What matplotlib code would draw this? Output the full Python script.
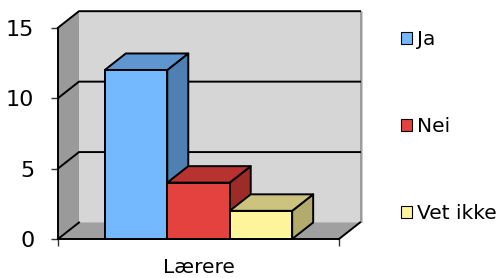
import matplotlib
matplotlib.use("Agg")
import matplotlib.pyplot as plt
from matplotlib.patches import Polygon, Patch

categories = ["Ja", "Nei", "Vet ikke"]
values = [12, 4, 2]
group_label = "Lærere"
yticks = [0, 5, 10, 15]

front_cols = ["#74b9fe", "#e4423f", "#fef49c"]
top_cols = ["#5f96d0", "#b8322f", "#ccc47e"]
side_cols = ["#4e80b3", "#9f2b28", "#b3aa6e"]

W, H, DPI = 501, 278, 100
fig = plt.figure(figsize=(W / DPI, H / DPI), dpi=DPI)
# front plane of the 3D box
x0, x1, ybot, ytop = 58, 339, 239, 27.7
ax = fig.add_axes([x0 / W, 1 - ybot / H, (x1 - x0) / W, (ybot - ytop) / H])
xmin, xmax = -1.25, 3.25
ax.set_xlim(xmin, xmax)
ax.set_ylim(0, 15)

# depth offset in data units (21 px right, 16.5 px up)
DX = 21 / ((x1 - x0) / (xmax - xmin))
DY = 16.5 / ((ybot - ytop) / 15)

lw = 1.4
kw = dict(clip_on=False)
# back wall, left wall, floor
ax.add_patch(Polygon([(xmin + DX, DY), (xmax + DX, DY), (xmax + DX, 15 + DY), (xmin + DX, 15 + DY)],
                     fc="#d6d6d6", ec="none", zorder=0, **kw))
ax.add_patch(Polygon([(xmax + DX, DY), (xmax + DX + 0.04, DY - 0.05), (xmax + DX + 0.04, 15 + DY), (xmax + DX, 15 + DY)],
                     fc="#9c9c9c", ec="none", zorder=0, **kw))
ax.add_patch(Polygon([(xmin, 0), (xmin + DX, DY), (xmin + DX, 15 + DY), (xmin, 15)],
                     fc="#9a9a9a", ec="none", zorder=0, **kw))
ax.add_patch(Polygon([(xmin, 0), (xmax, 0), (xmax + DX, DY), (xmin + DX, DY)],
                     fc="#a0a0a0", ec="none", zorder=0, **kw))

# grid lines on walls, top edge and floor edges
for y in yticks[1:]:
    ax.plot([xmin, xmin + DX, xmax + DX], [y, y + DY, y + DY], color="black", lw=lw, zorder=1, **kw)
ax.plot([xmin, xmin + DX], [0, DY], color="black", lw=lw, zorder=1, **kw)
ax.plot([xmax, xmax + DX], [0, DY], color="black", lw=lw, zorder=1, **kw)

# 3D columns
for i, (v, fc, tc, sc) in enumerate(zip(values, front_cols, top_cols, side_cols)):
    l, r = i - 0.5, i + 0.5
    z = 2 + i
    ax.add_patch(Polygon([(r, 0), (r + DX, DY), (r + DX, v + DY), (r, v)],
                         fc=sc, ec="black", lw=lw, joinstyle="round", zorder=z, **kw))
    ax.add_patch(Polygon([(l, v), (r, v), (r + DX, v + DY), (l + DX, v + DY)],
                         fc=tc, ec="black", lw=lw, joinstyle="round", zorder=z, **kw))
    ax.add_patch(Polygon([(l, 0), (r, 0), (r, v), (l, v)],
                         fc=fc, ec="black", lw=lw, joinstyle="round", zorder=z, **kw))

for s in ["top", "right"]:
    ax.spines[s].set_visible(False)
for s in ["left", "bottom"]:
    ax.spines[s].set_linewidth(lw)
    ax.spines[s].set_zorder(10)
ax.patch.set_visible(False)

ax.set_yticks(yticks)
ax.set_yticklabels([str(t) for t in yticks], fontsize=16)
ax.set_xticks([xmin, xmax])
ax.set_xticklabels([])
ax.tick_params(axis="both", length=5, width=1, color="#333333", pad=12)
ax.text(0.5, -0.088, group_label, transform=ax.transAxes, fontsize=14.5,
        ha="center", va="top")

handles = [Patch(fc=c, ec="black", lw=0.8) for c in front_cols]
fig.legend(handles, categories, loc="upper left", bbox_to_anchor=(401 / W, 1 - 30 / H),
           frameon=False, fontsize=14.5, handlelength=0.55, handleheight=0.55,
           handletextpad=0.25, labelspacing=3.37, borderpad=0, borderaxespad=0)

fig.savefig("out.png", dpi=DPI)
